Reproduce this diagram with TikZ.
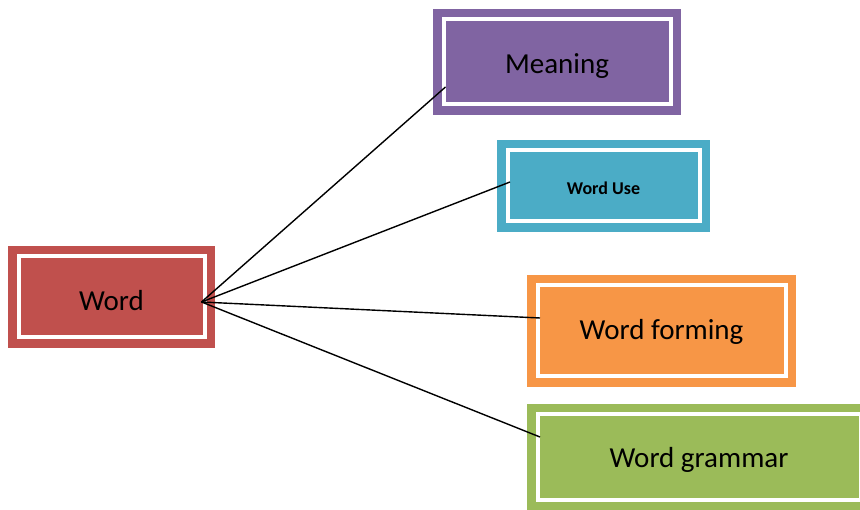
\documentclass[tikz,border=0pt]{standalone}
\usepackage{fontspec}
\setmainfont{Carlito}
\definecolor{cred}{HTML}{C0504D}
\definecolor{cpurple}{HTML}{8064A2}
\definecolor{cteal}{HTML}{4BACC6}
\definecolor{corange}{HTML}{F79646}
\definecolor{cgreen}{HTML}{9BBB59}
\begin{document}
\begin{tikzpicture}[x=1pt,y=-1pt,
  outerbox/.style={rectangle,inner sep=0pt,outer sep=0pt},
  innerbox/.style={rectangle,draw=white,line width=4pt,inner sep=0pt,outer sep=0pt,
    text depth=0pt,font=\fontsize{29}{34}\selectfont},
  smalltext/.style={font=\bfseries\fontsize{18}{22}\selectfont},
  link/.style={draw=black,line width=1.4pt}]
\clip (0,0) rectangle (860,510);
% outer coloured boxes
\node[outerbox,fill=cred,minimum width=207,minimum height=102] (wordO) at (111.5,297) {};
\node[outerbox,fill=cpurple,minimum width=248,minimum height=106] (meaningO) at (557,62) {};
\node[outerbox,fill=cteal,minimum width=213,minimum height=92] (useO) at (603.5,186) {};
\node[outerbox,fill=corange,minimum width=269,minimum height=112] (formingO) at (661.5,331) {};
\node[outerbox,fill=cgreen,minimum width=344,minimum height=107] (grammarO) at (699,457.5) {};
% inner white frames with text
\node[innerbox,text height=28pt,minimum width=186,minimum height=81] (word) at (wordO) {Word};
\node[innerbox,text height=24pt,minimum width=227,minimum height=85] (meaning) at (meaningO) {Meaning};
\node[innerbox,smalltext,text height=17pt,minimum width=192,minimum height=71] (use) at (useO) {Word Use};
\node[innerbox,text height=18pt,minimum width=248,minimum height=91] (forming) at (formingO) {Word forming};
\node[innerbox,text height=21pt,minimum width=323,minimum height=86] (grammar) at (grammarO) {Word grammar};
% connectors
\draw[link] ([xshift=-3pt,yshift=-5pt]word.east) -- ([xshift=2pt,yshift=-25pt]meaning.west);
\draw[link] ([xshift=-3pt,yshift=-5pt]word.east) -- ([xshift=2.5pt,yshift=4pt]use.west);
\draw[link] ([xshift=-3pt,yshift=-5pt]word.east) -- ([xshift=2.5pt,yshift=13pt]forming.west);
\draw[link] ([xshift=-3pt,yshift=-5pt]word.east) -- ([xshift=2.5pt,yshift=20.5pt]grammar.west);
\end{tikzpicture}
\end{document}
